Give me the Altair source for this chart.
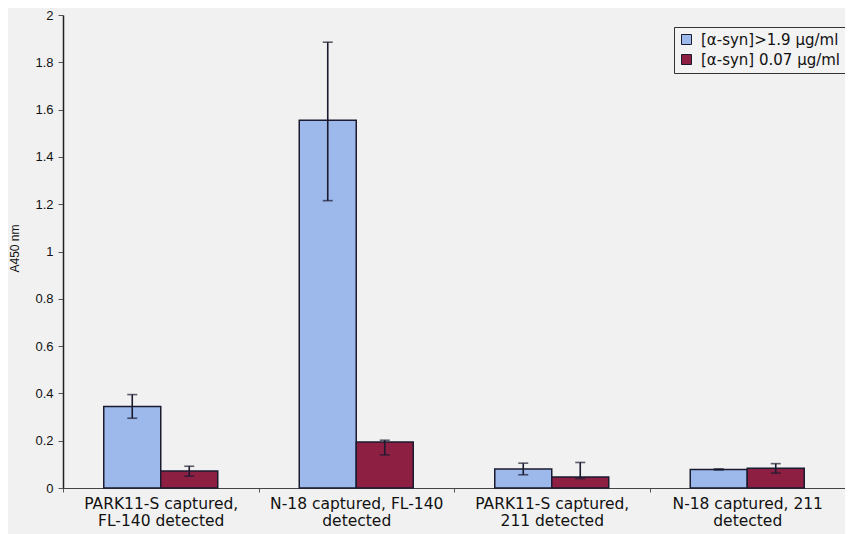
import altair as alt
import pandas as pd

categories = [
    "PARK11-S captured,\nFL-140 detected",
    "N-18 captured, FL-140\ndetected",
    "PARK11-S captured,\n211 detected",
    "N-18 captured, 211\ndetected",
]
series_names = ["[α-syn]>1.9 µg/ml", "[α-syn] 0.07 µg/ml"]

high_vals = [0.345, 1.555, 0.080, 0.078]
high_lo = [0.295, 1.215, 0.056, 0.076]
high_hi = [0.395, 1.885, 0.105, 0.081]

low_vals = [0.072, 0.195, 0.046, 0.083]
low_lo = [0.050, 0.140, 0.040, 0.063]
low_hi = [0.092, 0.202, 0.108, 0.103]

y_ticks = [0, 0.2, 0.4, 0.6, 0.8, 1, 1.2, 1.4, 1.6, 1.8, 2]

rows = []
for i, c in enumerate(categories):
    rows.append({"cat": c, "series": series_names[0], "v": high_vals[i], "lo": high_lo[i], "hi": high_hi[i]})
    rows.append({"cat": c, "series": series_names[1], "v": low_vals[i], "lo": low_lo[i], "hi": low_hi[i]})
df = pd.DataFrame(rows)

FONT = "Liberation Sans"
WIDE = "DejaVu Sans"
INK = "#1b1b30"

x_enc = alt.X(
    "cat:N",
    sort=categories,
    scale=alt.Scale(paddingInner=0, paddingOuter=0),
    axis=alt.Axis(
        title=None,
        labelAngle=0,
        labelExpr="split(datum.label, '\\n')",
        labelFont=WIDE,
        labelFontSize=15.5,
        labelColor="#111111",
        labelLineHeight=17,
        labelPadding=4,
        tickBand="extent",
        tickSize=4,
        tickColor="#555555",
        domainColor="#444444",
        domainWidth=1.2,
    ),
)
xoff = alt.XOffset(
    "series:N",
    sort=series_names,
    scale=alt.Scale(paddingOuter=0.715, paddingInner=0),
)
y_scale = alt.Scale(domain=[0, 2], nice=False)

bars = alt.Chart(df).mark_bar(stroke=INK, strokeWidth=1.5).encode(
    x=x_enc,
    xOffset=xoff,
    y=alt.Y(
        "v:Q",
        scale=y_scale,
        axis=alt.Axis(
            title="A450 nm",
            titleFont=FONT,
            titleFontSize=12,
            titleFontWeight="normal",
            titleColor="#111111",
            titleX=-49,
            titleY=233,
            titleAngle=270,
            titleBaseline="middle",
            titleAlign="center",
            values=y_ticks,
            format="~g",
            labelFont=FONT,
            labelFontSize=13,
            labelColor="#111111",
            labelPadding=5,
            tickSize=5,
            tickColor="#555555",
            domainColor="#222222",
            domainWidth=1.5,
            grid=False,
        ),
    ),
    color=alt.Color(
        "series:N",
        sort=series_names,
        scale=alt.Scale(domain=series_names, range=["#9db8ea", "#8c1f42"]),
        legend=alt.Legend(
            title=None,
            orient="none",
            legendX=611,
            legendY=12,
            symbolType="square",
            symbolSize=100,
            symbolStrokeColor=INK,
            symbolStrokeWidth=1,
            labelFont=WIDE,
            labelFontSize=15,
            labelColor="#111111",
            labelOffset=7,
            rowPadding=4,
            padding=5,
            strokeColor="#333333",
            fillColor="#f3f3f3",
        ),
    ),
)

rules = alt.Chart(df).mark_rule(color=INK, strokeWidth=1.6).encode(
    x=x_enc, xOffset=xoff, y=alt.Y("lo:Q", scale=y_scale), y2="hi:Q"
)
cap_lo = alt.Chart(df).mark_tick(color=INK, thickness=1.6, size=10).encode(
    x=x_enc, xOffset=xoff, y=alt.Y("lo:Q", scale=y_scale)
)
cap_hi = alt.Chart(df).mark_tick(color=INK, thickness=1.6, size=10).encode(
    x=x_enc, xOffset=xoff, y=alt.Y("hi:Q", scale=y_scale)
)

chart = (
    alt.layer(bars, rules, cap_lo, cap_hi)
    .properties(
        width=782,
        height=473,
        autosize=alt.AutoSizeParams(type="none"),
        padding={"left": 55, "top": 7, "right": 0, "bottom": 46},
        background="#f1f1f1",
    )
    .configure_view(stroke=None)
)

chart.save("out.html", embed_options={"renderer": "svg", "actions": False})
